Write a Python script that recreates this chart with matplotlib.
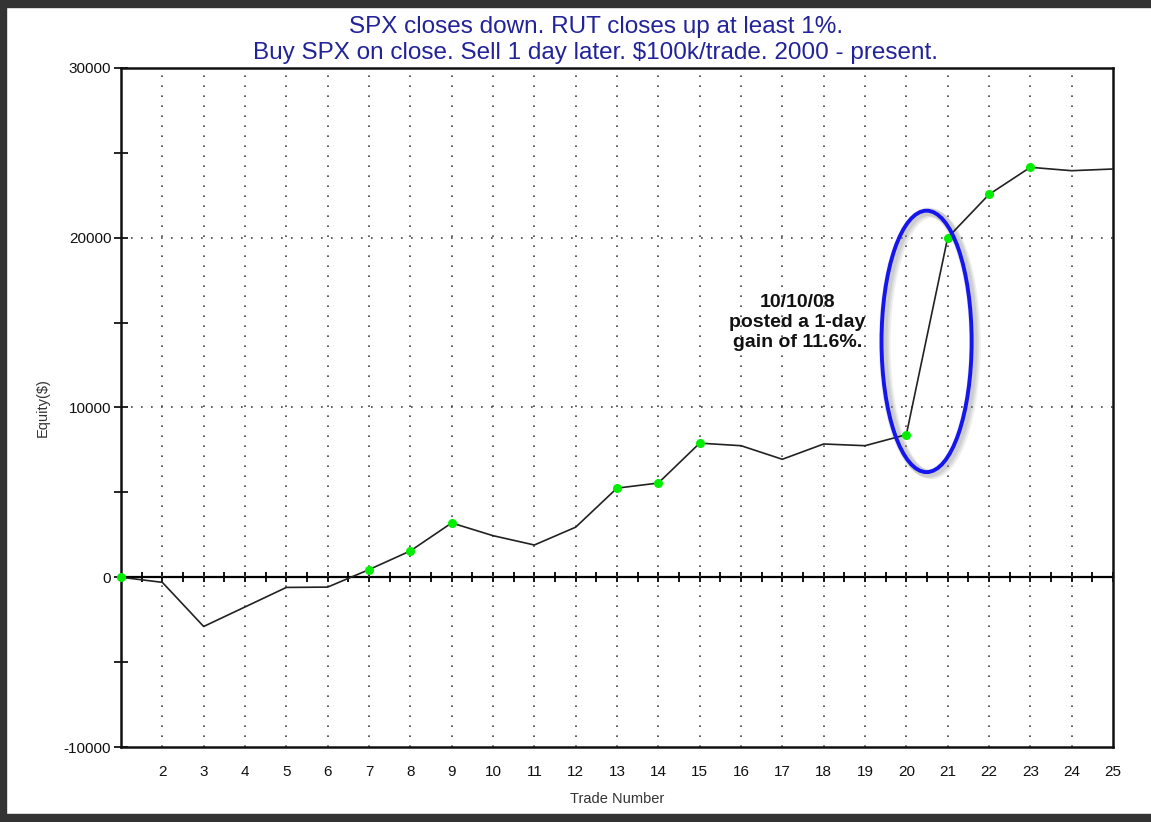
import numpy as np
import matplotlib.pyplot as plt
from matplotlib.patches import Ellipse, Rectangle

# 数据：每笔交易后的累计权益
trade_number = list(range(1, 26))
equity = [0, -300, -2900, -1750, -600, -580, 450, 1550, 3200, 2450,
          1900, 2950, 5250, 5550, 7900, 7750, 6950, 7850, 7750, 8400,
          20000, 22550, 24150, 23950, 24050]
# 创新高的交易（绿色点）
new_high = [1, 7, 8, 9, 13, 14, 15, 20, 21, 22, 23]
x_ticks = list(range(2, 26))
y_ticks = [-10000, 0, 10000, 20000, 30000]

title_lines = ["SPX closes down. RUT closes up at least 1%.",
               "Buy SPX on close. Sell 1 day later. $100k/trade. 2000 - present."]
note = "10/10/08\nposted a 1-day\ngain of 11.6%."

plt.rcParams['font.family'] = ['Liberation Sans', 'DejaVu Sans']

fig = plt.figure(figsize=(11.51, 8.22), dpi=100)
ax = fig.add_axes([121 / 1151, 75 / 822, 992 / 1151, 679 / 822])

# 网格（虚点线）
for xv in x_ticks[:-1]:
    ax.axvline(xv, color='#444444', lw=1.2, linestyle=(0, (1, 5)), zorder=1)
for yv in [10000, 20000]:
    ax.axhline(yv, color='#444444', lw=1.2, linestyle=(0, (1, 5)), zorder=1)

# 权益曲线
ax.plot(trade_number, equity, color='#222222', lw=1.2, zorder=3)
hx = [t for t in new_high]
hy = [equity[t - 1] for t in new_high]
ax.plot(hx, hy, 'o', color='#00ee00', markersize=6.5, mec='none',
        zorder=4, clip_on=False)

# 0 线，带刻度
zero_axis = ax.secondary_xaxis(0, transform=ax.transData)
zero_axis.set_xticks(np.arange(1.5, 25.5, 0.5))
zero_axis.tick_params(direction='inout', length=7, width=1.3, labelbottom=False)
zero_axis.spines['bottom'].set_linewidth(1.6)

# 坐标轴
ax.set_xlim(1, 25)
ax.set_ylim(-10000, 30000)
ax.set_xticks(x_ticks)
ax.set_xticklabels([str(v) for v in x_ticks], fontsize=11, color='#111111')
ax.tick_params(axis='x', length=0, pad=13)
ax.set_yticks(y_ticks)
ax.set_yticks([-5000, 5000, 15000, 25000], minor=True)
ax.set_yticklabels([str(v) for v in y_ticks], fontsize=11, color='#111111')
ax.tick_params(axis='y', which='both', direction='inout', length=10,
               width=1.2, pad=2)
for s in ax.spines.values():
    s.set_linewidth(1.8)
    s.set_color('#111111')

ax.set_xlabel("Trade Number", fontsize=10.5, color='#333333', labelpad=9)
ax.set_ylabel("Equity($)", fontsize=10.5, color='#333333', labelpad=10)

# 标题
fig.text(596 / 1151, 1 - 27 / 822, title_lines[0], ha='center', va='center',
         fontsize=17.5, color='#22229a')
fig.text(596 / 1151, 1 - 53 / 822, title_lines[1], ha='center', va='center',
         fontsize=17.5, color='#22229a')

# 注释与椭圆
ax.text(17.36, 15000, note, ha='center', va='center', fontsize=14,
        fontweight='bold', color='#111111', linespacing=1.22, zorder=5)
for d, a in [(0.12, 0.12), (0.08, 0.15), (0.04, 0.18)]:
    ax.add_patch(Ellipse((20.49 + d, 13894 - d * 1500), 2.18, 15400,
                         fill=False, edgecolor='gray', lw=6, alpha=a, zorder=2))
ax.add_patch(Ellipse((20.49, 13894), 2.18, 15400, fill=False,
                     edgecolor='#1515ee', lw=2.8, zorder=5))

# 外框
for r in [(0, 0, 6 / 1151, 1), (0, 1 - 7 / 822, 1, 7 / 822), (0, 0, 1, 8 / 822)]:
    fig.patches.append(Rectangle(r[:2], r[2], r[3], transform=fig.transFigure,
                                 color='#333333', zorder=10))

plt.savefig("out.png", dpi=100)
